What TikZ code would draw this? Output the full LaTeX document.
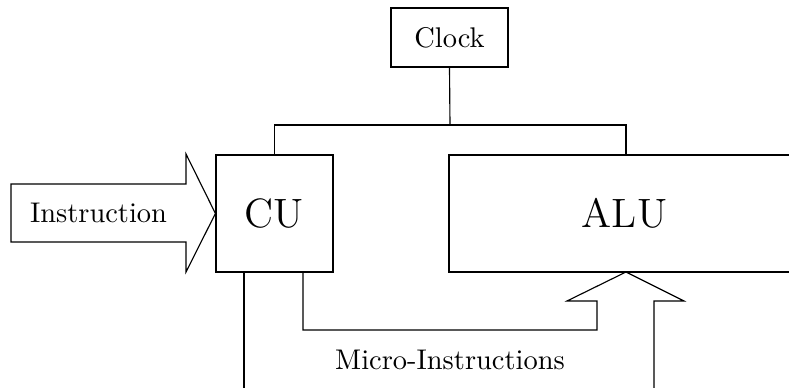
\documentclass[tikz,border=0pt]{standalone}
\newdimen\pxu \pxu=0.3515pt
\begin{document}
\begin{tikzpicture}[x=\pxu,y=-\pxu,
  box/.style={draw, rectangle, inner sep=0pt},
  wire/.style={draw, line width=0.4pt}]
\clip (0,0) rectangle (789,388);
\node[box, minimum width=117\pxu, minimum height=59\pxu] (clock) at (449.5,37.5) {Clock};
\node[box, minimum width=117\pxu, minimum height=117\pxu, font=\Large] (cu) at (274.5,213.5) {CU};
\node[box, minimum width=351\pxu, minimum height=117\pxu, font=\Large] (alu) at (624.5,213.5) {ALU};
\node (instr) at (98.5,213) {Instruction};
\node (micro) at (450,360) {Micro-Instructions};
\coordinate (bus) at (450,125);
\coordinate (busL) at (274.5,125);
\coordinate (busR) at (626,125);
\coordinate (aluTop) at (626,155);
\coordinate (cuOut1) at (244,272);
\coordinate (bottomA) at (244,395);
\coordinate (cuOut2) at (303,272);
\coordinate (aluTip) at (626,272);
\coordinate (bottomB) at (654,395);
% clock distribution
\draw[wire] (clock.south) -- (bus);
\draw[wire] (cu.north) -- (busL) -- (busR) -- (aluTop);
% instruction arrow
\draw[wire] (11,184) -- (186,184) -- (186,154) -- (cu.west) -- (186,272) -- (186,242) -- (11,242) -- cycle;
% CU outputs
\draw[wire] (cuOut1) -- (bottomA);
\draw[wire, line join=miter] (cuOut2) -- (303,330) -- (597,330) -- (597,301) -- (567,301) -- (aluTip) -- (684,301) -- (654,301) -- (bottomB);
\end{tikzpicture}
\end{document}
